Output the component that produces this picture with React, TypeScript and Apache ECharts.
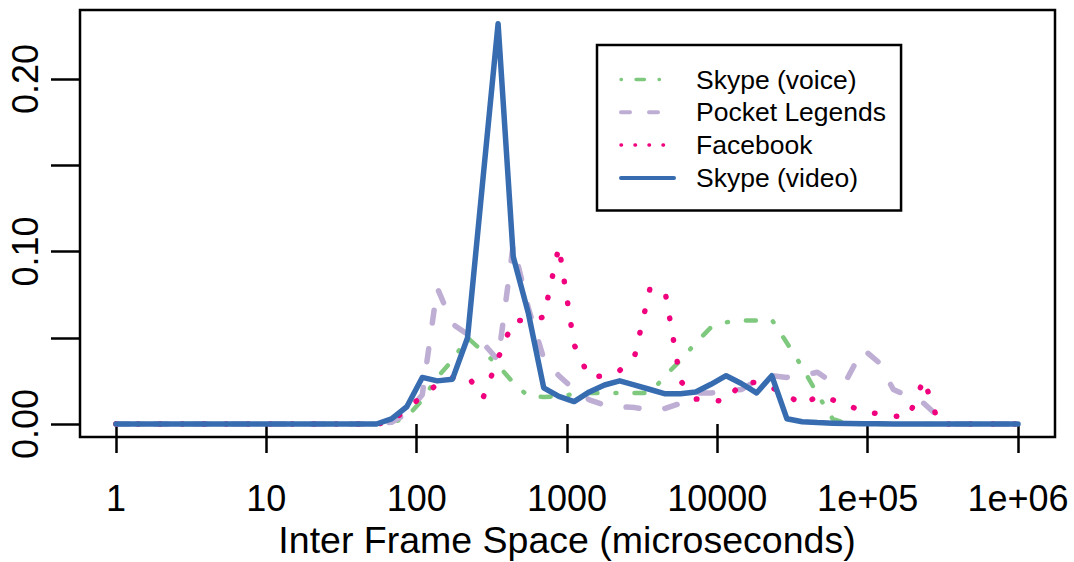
import React, { useEffect, useRef } from "react";
import * as echarts from "echarts";

// Inter frame space bins (microseconds), shared by all four traces
const frameSpace = [
  1, 54, 68, 86, 109, 137, 173, 218, 276, 348, 439, 554, 700, 883, 1115, 1407,
  1776, 2242, 2830, 3572, 4508, 5690, 7183, 9066, 11443, 14445, 18232, 23012,
  29040, 36665, 46278, 58412, 73735, 93047, 117450, 148250, 187130, 236210,
  298100, 376300, 1000000,
];

const skypeVoice = [
  0, 0, 0.0006, 0.004, 0.014, 0.027, 0.037, 0.05, 0.042, 0.034, 0.024, 0.016,
  0.0157, 0.016, 0.0174, 0.018, 0.018, 0.018, 0.018, 0.018, 0.028, 0.037, 0.047,
  0.056, 0.059, 0.06, 0.06, 0.0605, 0.047, 0.033, 0.0174, 0.003, 0, 0, 0, 0, 0,
  0, 0, 0, 0,
];

const pocketLegends = [
  0, 0, 0.001, 0.006, 0.017, 0.079, 0.058, 0.052, 0.047, 0.037, 0.104, 0.067,
  0.038, 0.028, 0.02, 0.014, 0.011, 0.01, 0.0095, 0.008, 0.009, 0.012, 0.018,
  0.018, 0.019, 0.02, 0.025, 0.028, 0.027, 0.028, 0.03, 0.024, 0.027, 0.0435,
  0.036, 0.02, 0.016, 0.012, 0.004, 0, 0,
];

const facebook = [
  0, 0, 0.001, 0.009, 0.016, 0.023, 0.027, 0.028, 0.015, 0.038, 0.06, 0.06,
  0.062, 0.103, 0.046, 0.027, 0.028, 0.031, 0.04, 0.079, 0.076, 0.025, 0.0145,
  0.014, 0.013, 0.024, 0.024, 0.021, 0.017, 0.011, 0.016, 0.014, 0.011, 0.007,
  0.006, 0.0046, 0.004, 0.026, 0, 0, 0,
];

const skypeVideo = [
  0, 0, 0.003, 0.01, 0.027, 0.025, 0.026, 0.05, 0.142, 0.232, 0.097, 0.064,
  0.021, 0.016, 0.013, 0.0186, 0.0226, 0.025, 0.0225, 0.02, 0.0175, 0.0175,
  0.0186, 0.023, 0.028, 0.0235, 0.018, 0.028, 0.003, 0.0013, 0.0008, 0.0005,
  0.0003, 0.0002, 0.0001, 0, 0, 0, 0, 0, 0,
];

const seriesNames = ["Skype (voice)", "Pocket Legends", "Facebook", "Skype (video)"];
const seriesValues = [skypeVoice, pocketLegends, facebook, skypeVideo];
const seriesColors = ["#7FC97F", "#BEAED4", "#F0027F", "#386CB0"];

const xTickLabels = ["1", "10", "100", "1000", "10000", "1e+05", "1e+06"];
const yTickValues = [0, 0.05, 0.1, 0.15, 0.2];
const yTickLabels = ["0.00", "", "0.10", "", "0.20"];

const FONT = "'Liberation Sans', Arial, Helvetica, sans-serif";

// line patterns for the plot and the (thinner) legend keys
const plotLineStyles: any[] = [
  { width: 4.5, type: [1, 18, 10, 18] },
  { width: 5.5, type: [13, 26] },
  { width: 5.5, type: [0.5, 21.5] },
  { width: 5.5, type: "solid" },
];
const legendLineStyles: any[] = [
  { width: 3.3, type: [0.5, 14.5, 8.5, 14.5] },
  { width: 4, type: [9, 19] },
  { width: 3.5, type: [0.5, 13.5] },
  { width: 4, type: "solid" },
];

export default function App() {
  const ref = useRef<HTMLDivElement>(null);

  useEffect(() => {
    const chart = echarts.init(ref.current!, undefined, { renderer: "svg" });

    const series = seriesNames.map((name, i) => ({
      name,
      type: "line",
      xAxisIndex: 1,
      yAxisIndex: 1,
      data: frameSpace.map((x, j) => [x, seriesValues[i][j]]),
      symbol: "none",
      showSymbol: false,
      clip: false,
      z: 2 + i,
      lineStyle: {
        color: seriesColors[i],
        cap: "round",
        join: "round",
        ...plotLineStyles[i],
      },
      itemStyle: { color: seriesColors[i] },
      emphasis: { disabled: true },
    }));

    chart.setOption({
      animation: false,
      backgroundColor: "#fff",
      textStyle: { fontFamily: FONT, color: "#000" },
      grid: [
        // frame around the plotting region
        {
          left: 80,
          top: 10,
          width: 975,
          height: 427,
          show: true,
          borderColor: "#000",
          borderWidth: 2.5,
          backgroundColor: "transparent",
          containLabel: false,
          outerBoundsMode: "none",
        },
        // data region: x from 1 to 1e6, y from 0 to 0.20
        {
          left: 116,
          top: 79,
          width: 902,
          height: 345,
          containLabel: false,
          outerBoundsMode: "none",
        },
      ],
      xAxis: [
        { type: "value", gridIndex: 0, show: false, min: 0, max: 1 },
        {
          type: "log",
          logBase: 10,
          gridIndex: 1,
          min: 1,
          max: 1000000,
          offset: 13,
          axisLine: { show: false },
          splitLine: { show: false },
          axisTick: {
            show: true,
            inside: false,
            length: 29,
            lineStyle: { color: "#000", width: 2.5 },
          },
          axisLabel: {
            margin: 43,
            fontSize: 36,
            fontFamily: FONT,
            color: "#000",
            formatter: (v: number) => xTickLabels[Math.round(Math.log10(v))] ?? "",
          },
          name: "Inter Frame Space (microseconds)",
          nameLocation: "middle",
          nameGap: 81,
          nameTextStyle: { fontSize: 37.5, fontFamily: FONT, color: "#000" },
        },
      ],
      yAxis: [
        { type: "value", gridIndex: 0, show: false, min: 0, max: 1 },
        {
          type: "value",
          gridIndex: 1,
          min: 0,
          max: 0.2,
          interval: 0.05,
          offset: 36,
          axisLine: { show: false },
          splitLine: { show: false },
          axisTick: {
            show: true,
            inside: false,
            length: 29,
            lineStyle: { color: "#000", width: 2.5 },
          },
          axisLabel: {
            rotate: 90,
            margin: 37,
            fontSize: 36,
            fontFamily: FONT,
            color: "#000",
            formatter: (v: number) => {
              const i = yTickValues.findIndex((t) => Math.abs(t - v) < 1e-9);
              return i >= 0 ? yTickLabels[i] : "";
            },
          },
        },
      ],
      legend: {
        show: true,
        orient: "vertical",
        left: 597,
        top: 45,
        padding: [21, 15, 19, 22],
        itemWidth: 53,
        itemHeight: 27,
        itemGap: 5.8,
        borderColor: "#000",
        borderWidth: 2.5,
        backgroundColor: "#fff",
        selectedMode: false,
        itemStyle: { opacity: 0 },
        textStyle: {
          fontSize: 26.5,
          lineHeight: 27,
          fontFamily: FONT,
          color: "#000",
          padding: [0, 0, 0, 17],
        },
        data: seriesNames.map((name, i) => ({
          name,
          lineStyle: {
            color: seriesColors[i],
            cap: "round",
            ...legendLineStyles[i],
          },
        })),
      },
      series,
    });

    return () => chart.dispose();
  }, []);

  return (
    <div
      ref={ref}
      style={{
        position: "fixed",
        left: 0,
        top: 0,
        width: 1074,
        height: 562,
        background: "#fff",
      }}
    />
  );
}
